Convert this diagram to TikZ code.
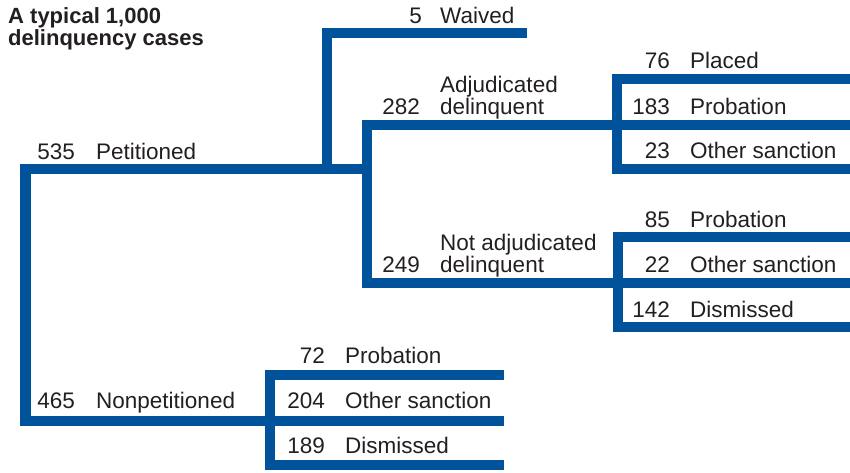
\documentclass[tikz,border=0pt]{standalone}
\usepackage{fontspec}
\setmainfont{Liberation Sans}
\usetikzlibrary{positioning,calc}
\definecolor{caseblue}{RGB}{0,83,155}
\definecolor{casetext}{RGB}{35,31,32}

\begin{document}
\begin{tikzpicture}[x=1pt,y=-1pt,
    branch/.style={draw=caseblue, line width=10.5pt, line join=miter},
    num/.style={anchor=base east, inner sep=0pt, text=casetext, font=\fontsize{22.5}{22}\selectfont},
    lab/.style={anchor=base west, inner sep=0pt, align=left, text=casetext, font=\fontsize{22.5}{22}\selectfont},
    title/.style={anchor=base west, inner sep=0pt, align=left, text=casetext, font=\fontsize{22}{22}\selectfont\bfseries}]
  \useasboundingbox (0,0) rectangle (850,472);
  % junctions
  \coordinate (root) at (25.5,169);
  \coordinate (pet) at (367,169);
  \coordinate (wv) at (327,169);
  \coordinate (wvtop) at (327,33);
  \coordinate (wvend) at (527,33);
  \coordinate (adj) at (367,125);
  \coordinate (adjend) at (617,125);
  \coordinate (nadj) at (367,283);
  \coordinate (nadjend) at (618,283);
  \coordinate (nonp) at (25.5,421);
  \coordinate (nonpend) at (270,421);
  % petitioned / nonpetitioned
  \draw[branch] (pet) -- (root) -- (nonp) -- (nonpend);
  % waived
  \draw[branch] (wv) -- (wvtop) -- (wvend);
  % adjudicated or not
  \draw[branch] (adjend) -- (adj) -- (nadj) -- (nadjend);
  % outcome brackets
  \foreach \g/\gx/\gy/\gend in {adjend/617/125/850, nadjend/618/283/850, nonpend/270/421/504}
    {
      \coordinate (\g top) at (\gx,\gy-46);
      \coordinate (\g bot) at (\gx,\gy+44);
      \draw[branch] (\gend,\gy-46) -- (\g top) -- (\g bot) -- (\gend,\gy+44);
      \draw[branch] (\g) -- (\gend,\gy);
    }
  % title
  \node[title] (head) at (8,45) {A typical 1,000\\delinquency cases};
  % labels
  \node[num] (n535) at (75,159) {535};
  \node[lab] (tpet) at (96,159) {Petitioned};
  \node[num] (n5) at (422,23) {5};
  \node[lab] (twv) at (440,23) {Waived};
  \node[num] (n282) at (420,114) {282};
  \node[lab] (tadj) at (440,114) {Adjudicated\\delinquent};
  \node[num] (n76) at (670,68) {76};
  \node[lab] (tpl) at (690,68) {Placed};
  \node[num] (n183) at (670,114) {183};
  \node[lab] (tpr1) at (690,114) {Probation};
  \node[num] (n23) at (670,158) {23};
  \node[lab] (tos1) at (690,158) {Other sanction};
  \node[num] (n249) at (420,272) {249};
  \node[lab] (tnadj) at (440,272) {Not adjudicated\\delinquent};
  \node[num] (n85) at (670,227) {85};
  \node[lab] (tpr2) at (690,227) {Probation};
  \node[num] (n22) at (670,272) {22};
  \node[lab] (tos2) at (690,272) {Other sanction};
  \node[num] (n142) at (670,317) {142};
  \node[lab] (tds2) at (690,317) {Dismissed};
  \node[num] (n465) at (75,408) {465};
  \node[lab] (tnonp) at (96,408) {Nonpetitioned};
  \node[num] (n72) at (325,363) {72};
  \node[lab] (tpr3) at (345,363) {Probation};
  \node[num] (n204) at (325,408) {204};
  \node[lab] (tos3) at (345,408) {Other sanction};
  \node[num] (n189) at (325,453) {189};
  \node[lab] (tds3) at (345,453) {Dismissed};
\end{tikzpicture}
\end{document}
